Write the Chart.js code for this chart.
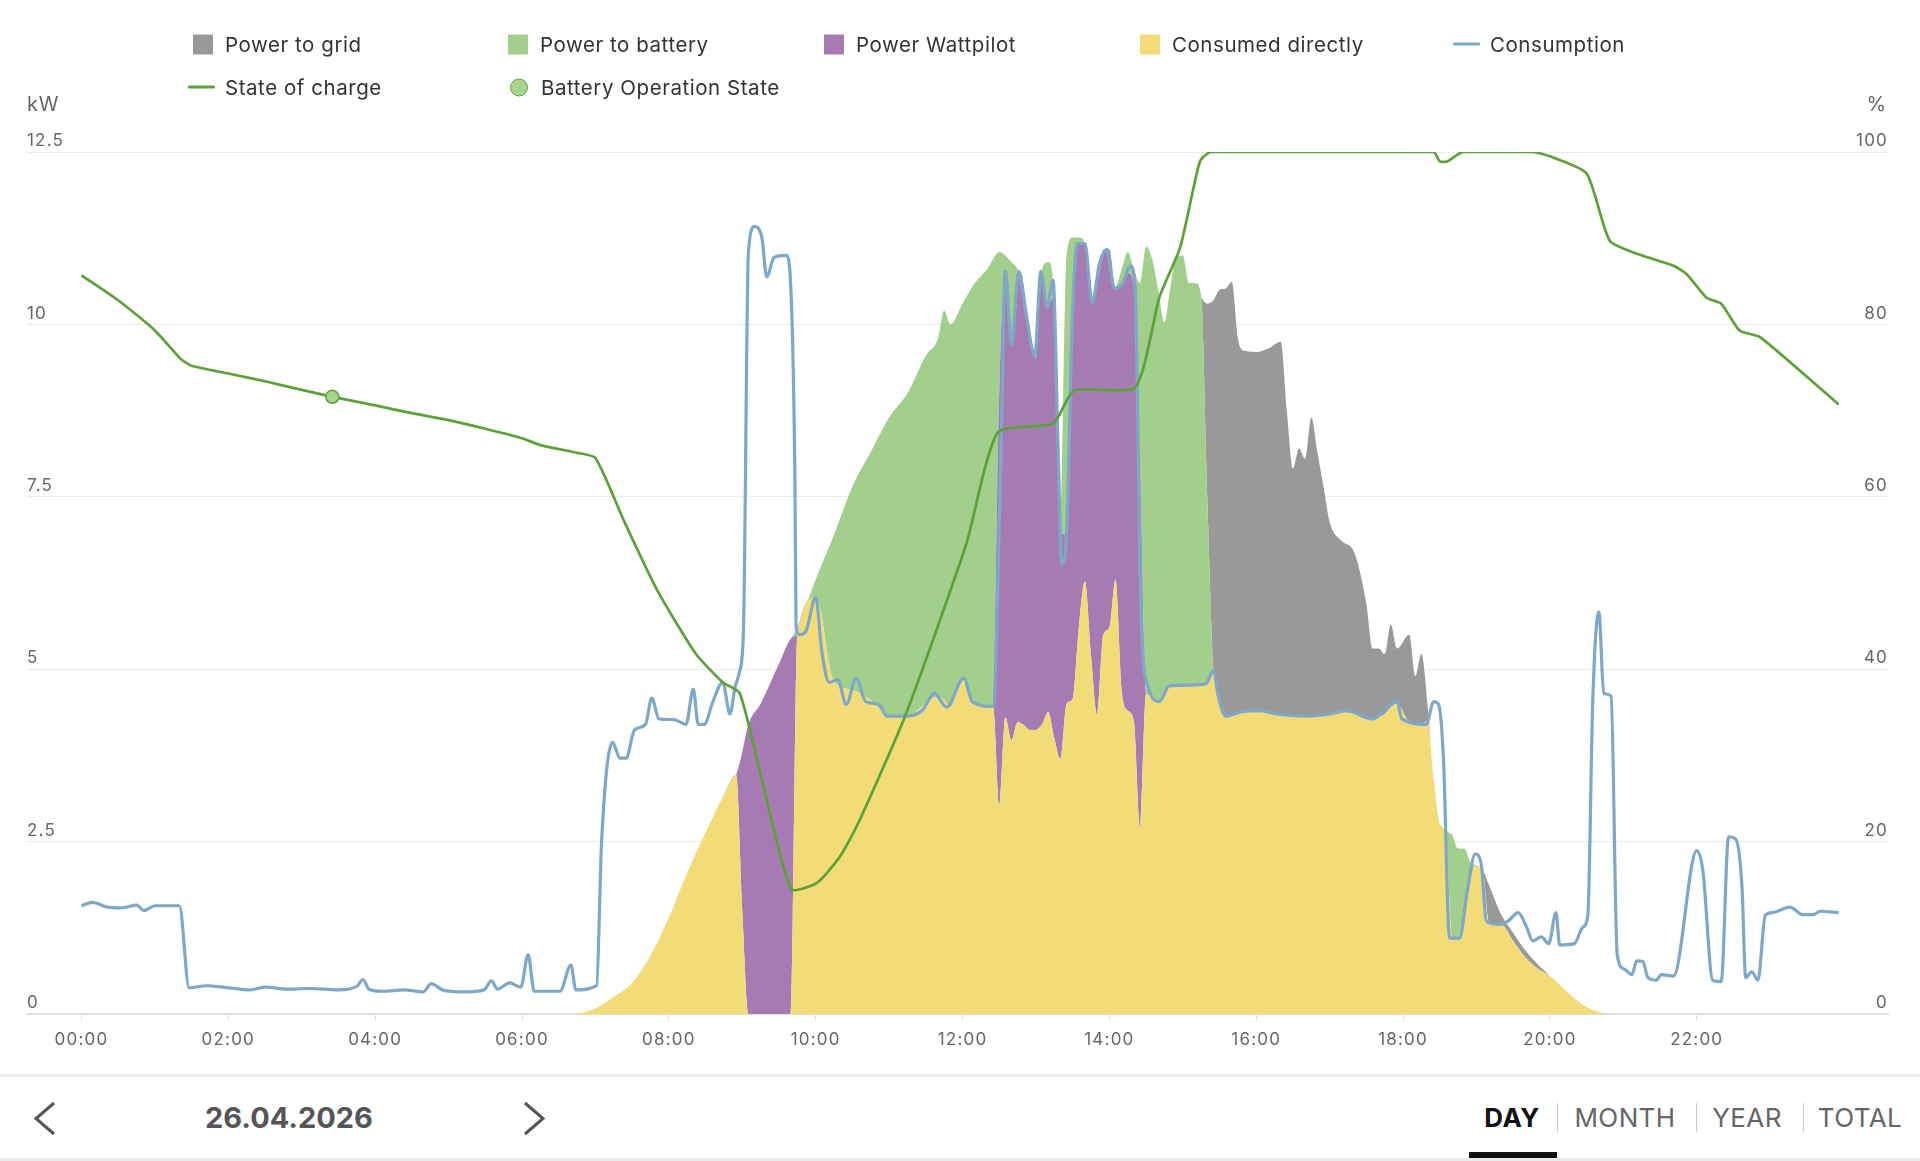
<!DOCTYPE html>
<html>
<head>
<meta charset="utf-8">
<script src="https://cdn.jsdelivr.net/npm/chart.js@4.4.1/dist/chart.umd.min.js"></script>
<style>
body { margin: 0; background: #fff; font-family: Inter, sans-serif; }
#page { position: relative; width: 1920px; height: 1161px; overflow: hidden; }
#chart { position: absolute; left: 0; top: 0; }
.lg { position: absolute; display: flex; align-items: center; font-size: 20.5px; letter-spacing: 0.55px; color: #333; white-space: nowrap; transform: translateY(-50%); }
.sq { width: 20px; height: 20px; margin-right: 12px; border-radius: 1px; }
.ln { width: 27px; height: 3px; margin-right: 10px; border-radius: 1px; }
.dot { width: 16px; height: 16px; margin-right: 13px; border-radius: 50%; background: #a8d48e; border: 1.5px solid #5fa244; }
.unit { position: absolute; font-size: 20px; letter-spacing: 0.8px; color: #666; transform: translateY(-50%); }
.nav { position: absolute; transform: translate(-50%, -50%); font-size: 26px; color: #666; letter-spacing: 0.4px; }
</style>
</head>
<body>
<div id="page">
  <canvas id="chart" width="1920" height="1075"></canvas>

  <div class="lg" style="left:193px;top:44px"><span class="sq" style="background:#999999"></span>Power to grid</div>
  <div class="lg" style="left:508px;top:44px"><span class="sq" style="background:#a2cf8b"></span>Power to battery</div>
  <div class="lg" style="left:824px;top:44px"><span class="sq" style="background:#a67bb3"></span>Power Wattpilot</div>
  <div class="lg" style="left:1140px;top:44px"><span class="sq" style="background:#f3db78"></span>Consumed directly</div>
  <div class="lg" style="left:1453px;top:44px"><span class="ln" style="background:#7ea8c8"></span>Consumption</div>
  <div class="lg" style="left:188px;top:87px"><span class="ln" style="background:#5ba238"></span>State of charge</div>
  <div class="lg" style="left:510px;top:87px"><span class="dot"></span>Battery Operation State</div>

  <div class="unit" style="left:27px;top:104px">kW</div>
  <div class="unit" style="right:33px;top:104px">%</div>

  <div style="position:absolute;left:0;top:1074px;width:1920px;height:3px;background:#ececec"></div>
  <svg style="position:absolute;left:0;top:1090px" width="600" height="60">
    <polyline points="54,13 36,28.5 54,44" fill="none" stroke="#555" stroke-width="3"/>
    <polyline points="525,13 543,28.5 525,44" fill="none" stroke="#555" stroke-width="3"/>
  </svg>
  <div class="nav" style="left:289px;top:1117px;font-size:29px;font-weight:700;color:#555;letter-spacing:0">26.04.2026</div>
  <div class="nav" style="left:1512px;top:1117px;font-weight:700;color:#111">DAY</div>
  <div class="nav" style="left:1625px;top:1117px">MONTH</div>
  <div class="nav" style="left:1747px;top:1117px">YEAR</div>
  <div class="nav" style="left:1860px;top:1117px">TOTAL</div>
  <div style="position:absolute;left:1557px;top:1103px;width:1px;height:29px;background:#ccc"></div>
  <div style="position:absolute;left:1696px;top:1103px;width:1px;height:29px;background:#ccc"></div>
  <div style="position:absolute;left:1803px;top:1103px;width:1px;height:29px;background:#ccc"></div>
  <div style="position:absolute;left:1469px;top:1152px;width:88px;height:6px;background:#111"></div>
  <div style="position:absolute;left:0;top:1158px;width:1920px;height:3px;background:#ececec"></div>
</div>

<script>
// x axis ticks (hours)
var hourTicks = [0, 2, 4, 6, 8, 10, 12, 14, 16, 18, 20, 22];

// stacked production areas, kW
var areaTimes = ['06:45','07:00','07:15','07:30','07:45','08:00','08:15','08:30','08:45','08:55',
  '09:00','09:05','09:15','09:30','09:40','09:45','10:00','10:15','10:30','10:45',
  '11:00','11:15','11:30','11:40','11:45','11:50','12:00','12:10','12:20','12:25',
  '12:30','12:35','12:40','12:45','12:50','12:55','13:00','13:05','13:10','13:15',
  '13:20','13:25','13:30','13:35','13:40','13:45','13:50','13:55','14:00','14:05',
  '14:10','14:15','14:20','14:25','14:30','14:35','14:40','14:45','14:50','14:55',
  '15:00','15:05','15:10','15:15','15:20','15:25','15:30','15:35','15:40','15:45',
  '15:50','16:00','16:10','16:20','16:25','16:30','16:35','16:40','16:45','16:50',
  '16:55','17:00','17:10','17:20','17:30','17:35','17:40','17:45','17:50','17:55',
  '18:05','18:10','18:15','18:20','18:25','18:30','18:35','18:40','18:45','18:50',
  '18:55','19:00','19:05','19:10','19:20','19:30','19:40','19:50','20:00','20:15',
  '20:30','20:45'];
var consumedDirectly = [0,0.08,0.25,0.45,0.85,1.4,2.05,2.63,3.18,3.47,
  1.5,0,0,0,0,5.5,6.04,4.83,4.7,4.55,
  4.32,4.32,4.5,4.6,4.55,4.45,4.85,4.5,4.45,4.46,
  3.0,4.3,3.97,4.23,4.19,4.12,4.12,4.2,4.38,4.0,
  3.7,4.5,4.57,5.6,6.27,5.2,4.34,5.5,5.6,6.3,
  4.7,4.4,4.25,2.7,4.64,4.6,4.53,4.6,4.76,4.77,
  4.77,4.77,4.78,4.79,4.8,4.95,4.55,4.32,4.35,4.38,
  4.38,4.4,4.38,4.36,4.35,4.34,4.33,4.32,4.32,4.33,
  4.34,4.35,4.38,4.35,4.3,4.28,4.3,4.35,4.45,4.5,
  4.24,4.22,4.2,4.25,3.4,2.75,2.6,1.1,1.1,1.5,
  2.0,2.15,2.1,1.35,1.3,1.06,0.82,0.66,0.55,0.3,
  0.1,0];
var powerWattpilot = [0,0,0,0,0,0,0,0,0,0,
  2.3,4.2,4.5,5.08,5.45,0,0,0,0,0,
  0,0,0,0,0,0,0,0,0,0,
  6.0,6.47,5.74,6.52,6.11,5.68,5.38,6.55,5.92,6.4,
  3.3,2.45,5.67,5.57,4.9,5.15,6.26,5.5,5.49,4.22,
  5.9,6.35,6.31,5.3,0,0,0,0,0,0,
  0,0,0,0,0,0,0,0,0,0,
  0,0,0,0,0,0,0,0,0,0,
  0,0,0,0,0,0,0,0,0,0,
  0,0,0,0,0,0,0,0,0,0,
  0,0,0,0,0,0,0,0,0,0,
  0,0];
var powerToBattery = [0,0,0,0,0,0,0,0,0,0,
  0,0,0,0,0,0.1,0.26,2.12,2.95,3.6,
  4.33,4.68,5.05,5.2,5.65,5.55,5.45,6.1,6.35,6.49,
  2.05,0.23,1.19,0.05,0.2,0.1,0.1,0.05,0.6,0,
  0,4.05,1.02,0.09,0,0.05,0,0.09,0,0.03,
  0.2,0.3,0.24,2.6,6.49,6.35,5.97,5.43,5.8,6.23,
  6.23,5.83,5.82,5.61,2.7,0.05,0,0,0,0,
  0,0,0,0,0,0,0,0,0,0,
  0,0,0,0,0,0,0,0,0,0,
  0,0,0,0,0,0,0.05,1.5,1.3,0.9,
  0.2,0,0,0,0,0,0,0,0,0,
  0,0];
var powerToGrid = [0,0,0,0,0,0,0,0,0,0,
  0,0,0,0,0,0,0,0,0,0,
  0,0,0,0,0,0,0,0,0,0,
  0,0,0,0,0,0,0,0,0,0,
  0,0,0,0,0,0,0,0,0,0,
  0,0,0,0,0,0,0,0,0,0,
  0,0,0,0,2.8,5.35,5.95,6.2,6.27,5.42,
  5.24,5.2,5.27,5.39,4.4,3.57,3.87,3.73,4.33,3.82,
  3.31,2.79,2.48,2.35,1.65,1.02,1.0,0.87,1.2,0.8,
  1.26,0.68,1.02,0.25,0,0,0,0,0,0,
  0,0,0,0.53,0.15,0.12,0.1,0.06,0,0,
  0,0];

// consumption line, kW
var consTimes = ['00:00','00:09','00:21','00:33','00:45','00:51','01:00','01:20','01:28','01:42',
  '02:00','02:18','02:30','02:48','03:06','03:30','03:45','03:50','03:55','04:06',
  '04:24','04:39','04:46','04:55','05:12','05:29','05:35','05:40','05:50','05:59',
  '06:05','06:10','06:31','06:40','06:44','07:01','07:05','07:14','07:20','07:25',
  '07:32','07:41','07:46','07:52','08:04','08:14','08:20','08:24','08:29','08:36',
  '08:44','08:50','08:54','08:58','09:01','09:05','09:10','09:16','09:20','09:26',
  '09:36','09:40','09:43','09:44','09:47','09:52','10:00','10:05','10:11','10:18',
  '10:25','10:33','10:41','10:52','10:58','11:14','11:27','11:37','11:47','12:01',
  '12:08','12:25','12:31','12:35','12:40','12:46','12:52','12:59','13:04','13:09',
  '13:14','13:18','13:21','13:25','13:30','13:34','13:40','13:46','13:52','13:58',
  '14:04','14:11','14:17','14:21','14:26','14:32','14:41','14:49','15:06','15:19',
  '15:25','15:29','15:35','15:47','16:03','16:14','16:41','17:00','17:14','17:35',
  '17:55','17:59','18:19','18:25','18:29','18:33','18:38','18:46','18:53','18:59',
  '19:04','19:08','19:19','19:26','19:34','19:41','19:46','19:53','19:59','20:05',
  '20:08','20:20','20:27','20:31','20:35','20:40','20:44','20:50','20:55','21:01',
  '21:07','21:11','21:16','21:20','21:27','21:31','21:41','22:00','22:05','22:13',
  '22:20','22:26','22:32','22:37','22:40','22:45','22:50','22:56','23:02','23:16',
  '23:27','23:35','23:41','23:56'];
var consValues = [1.57,1.62,1.55,1.54,1.58,1.50,1.57,1.57,0.38,0.41,
  0.38,0.35,0.39,0.36,0.37,0.35,0.40,0.50,0.36,0.33,
  0.35,0.32,0.44,0.35,0.32,0.35,0.48,0.36,0.45,0.39,
  0.86,0.33,0.33,0.71,0.35,0.41,2.49,3.94,3.71,3.71,
  4.12,4.20,4.58,4.28,4.27,4.20,4.71,4.20,4.20,4.53,
  4.81,4.35,4.73,4.98,5.59,11.05,11.42,11.26,10.69,10.97,
  11.00,10.40,7.79,5.59,5.50,5.55,6.04,5.26,4.81,4.85,
  4.49,4.87,4.53,4.49,4.32,4.32,4.40,4.65,4.45,4.87,
  4.53,4.46,7.79,10.77,9.71,10.77,10.16,9.54,10.77,10.24,
  10.64,8.28,6.53,6.97,10.24,11.17,11.17,10.32,10.89,11.09,
  10.52,10.60,10.85,10.56,5.75,4.73,4.53,4.76,4.77,4.79,
  4.98,4.61,4.32,4.38,4.40,4.36,4.32,4.35,4.40,4.28,
  4.54,4.28,4.20,4.53,4.49,3.71,1.10,1.10,1.84,2.32,
  2.16,1.35,1.30,1.35,1.47,1.26,1.06,1.12,1.02,1.47,
  1.00,1.02,1.26,1.43,4.53,5.83,4.65,4.61,0.86,0.65,
  0.57,0.77,0.76,0.53,0.49,0.57,0.55,2.37,2.08,0.49,
  0.47,2.57,2.53,1.84,0.53,0.61,0.49,1.43,1.47,1.55,
  1.44,1.44,1.49,1.47];

// state of charge, %
var socTimes = ['00:00','00:30','01:00','01:21','01:30','02:00','02:30','03:00','03:25','04:00',
  '04:30','05:00','05:30','06:00','06:15','06:45','07:00','07:24','07:50','08:22',
  '08:44','08:58','09:18','09:40','10:01','10:20','10:36','11:14','12:03','12:29',
  '13:14','13:31','14:21','14:41','14:58','15:14','15:23','18:25','18:30','18:36',
  '18:49','19:46','20:00','20:30','20:49','21:13','21:41','21:52','22:08','22:20',
  '22:35','22:52','23:56'];
var socValues = [85.7,82.8,79.3,76.0,75.2,74.3,73.4,72.4,71.6,70.6,
  69.7,68.9,67.9,66.8,66.0,65.1,64.5,57.0,49.3,41.8,
  38.5,37.2,26.0,14.5,15.2,18.3,22.5,34.9,54.5,67.5,
  68.5,72.3,72.7,83.2,89.0,98.9,100,100,98.9,98.9,
  100,100,99.5,97.5,89.7,88.1,86.8,85.8,83.1,82.4,
  79.3,78.5,70.7];

// battery operation state marker
var batteryStateTimes = ['03:25'];
var batteryStateValues = [71.6];

function h(s) { var p = s.split(':'); return +p[0] + p[1] / 60; }
function pts(times, vals) { return times.map(function (t, i) { return { x: h(t), y: vals[i] }; }); }
function pad(n) { return (n < 10 ? '0' : '') + n; }

Chart.defaults.font.family = 'Inter';

function area(label, vals, color, fill) {
  return { label: label, data: pts(areaTimes, vals), yAxisID: 'y', stack: 'pv',
    backgroundColor: color, borderWidth: 0, pointRadius: 0, fill: fill,
    cubicInterpolationMode: 'monotone' };
}

// wider tick text, like the original
var spacing = {
  id: 'spacing',
  beforeUpdate: function (c) { c.ctx.letterSpacing = '1.2px'; },
  beforeDraw: function (c) { c.ctx.letterSpacing = '1.2px'; }
};

var ctx = document.getElementById('chart').getContext('2d');
var chart = new Chart(ctx, {
  type: 'line',
  plugins: [spacing],
  data: {
    datasets: [
      { label: 'Battery Operation State', data: pts(batteryStateTimes, batteryStateValues), yAxisID: 'y2',
        showLine: false, pointRadius: 6.5, pointBackgroundColor: '#a8d48e', pointBorderColor: '#5fa244', pointBorderWidth: 1.5 },
      { label: 'State of charge', data: pts(socTimes, socValues), yAxisID: 'y2',
        borderColor: '#5ba238', borderWidth: 2.7, pointRadius: 0, fill: false, tension: 0.2 },
      { label: 'Consumption', data: pts(consTimes, consValues), yAxisID: 'y', stack: 'cons',
        borderColor: '#7ea8c8', borderWidth: 3.2, pointRadius: 0, fill: false, cubicInterpolationMode: 'monotone' },
      area('Consumed directly', consumedDirectly, '#f3db78', 'origin'),
      area('Power Wattpilot', powerWattpilot, '#a67bb3', '-1'),
      area('Power to battery', powerToBattery, '#a2cf8b', '-1'),
      area('Power to grid', powerToGrid, '#999999', '-1')
    ]
  },
  options: {
    responsive: false,
    animation: false,
    devicePixelRatio: 1,
    layout: { padding: { left: 27, right: 32, top: 152, bottom: 0 } },
    plugins: { legend: { display: false }, tooltip: { enabled: false } },
    scales: {
      x: {
        type: 'linear', min: -0.742, max: 24.605,
        afterBuildTicks: function (axis) { axis.ticks = hourTicks.map(function (v) { return { value: v }; }); },
        afterFit: function (axis) { axis.height = 61; },
        ticks: { callback: function (v) { return pad(v) + ':00'; }, font: { size: 17 }, color: '#666',
          padding: 9, maxRotation: 0, autoSkip: false },
        grid: { drawOnChartArea: false, drawTicks: true, tickLength: 7, color: '#e3e3e3' },
        border: { display: true, color: '#dedede', width: 2 }
      },
      y: {
        position: 'left', min: 0, max: 12.5, stacked: true,
        ticks: { stepSize: 2.5, mirror: true, padding: 0, labelOffset: -11, font: { size: 17 }, color: '#666' },
        grid: { color: '#ebebeb', drawTicks: false },
        border: { display: false }
      },
      y2: {
        position: 'right', min: 0, max: 100,
        ticks: { stepSize: 20, mirror: true, padding: 0, labelOffset: -11, font: { size: 17 }, color: '#666' },
        grid: { display: false, drawTicks: false },
        border: { display: false }
      }
    }
  }
});
</script>
</body>
</html>
